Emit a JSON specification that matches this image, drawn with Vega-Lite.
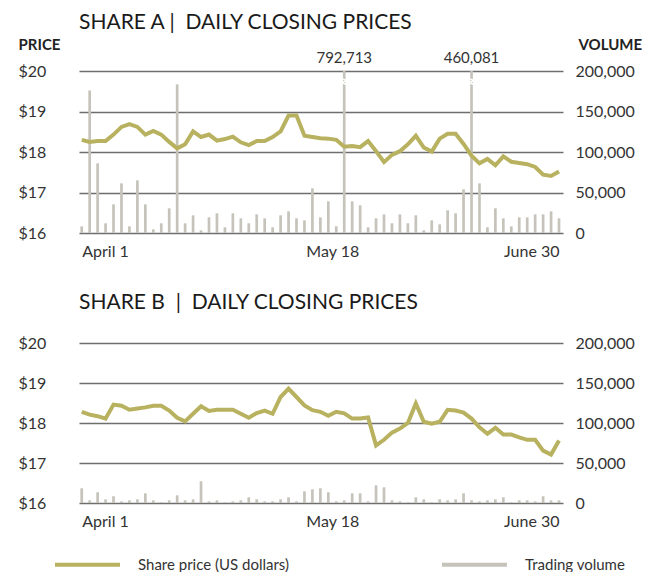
{
  "$schema": "https://vega.github.io/schema/vega-lite/v6.json",
  "padding": {"left": 18, "top": 12, "right": 0, "bottom": 0},
  "background": "white",
  "config": {"font": "Lato", "view": {"stroke": null}},
  "spacing": 33,
  "datasets": {
    "a": [
      {"d":1,"p":18.30,"v":8200},{"d":2,"p":18.25,"v":176000},{"d":3,"p":18.27,"v":86000},{"d":4,"p":18.27,"v":12000},
      {"d":5,"p":18.43,"v":35400},{"d":6,"p":18.62,"v":61300},{"d":7,"p":18.69,"v":8200},{"d":8,"p":18.62,"v":65000},
      {"d":9,"p":18.43,"v":35400},{"d":10,"p":18.52,"v":4500},{"d":11,"p":18.43,"v":12000},{"d":12,"p":18.25,"v":30500},
      {"d":13,"p":18.09,"v":183500},{"d":14,"p":18.19,"v":12000},{"d":15,"p":18.51,"v":21800},{"d":16,"p":18.37,"v":3300},
      {"d":17,"p":18.43,"v":19300},{"d":18,"p":18.28,"v":24300},{"d":19,"p":18.32,"v":7000},{"d":20,"p":18.38,"v":24300},
      {"d":21,"p":18.24,"v":18100},{"d":22,"p":18.17,"v":12000},{"d":23,"p":18.27,"v":23000},{"d":24,"p":18.27,"v":18100},
      {"d":25,"p":18.37,"v":7000},{"d":26,"p":18.51,"v":21800},{"d":27,"p":18.90,"v":26700},{"d":28,"p":18.90,"v":18100},
      {"d":29,"p":18.40,"v":15600},{"d":30,"p":18.37,"v":55100},{"d":31,"p":18.34,"v":19300},{"d":32,"p":18.33,"v":39100},
      {"d":33,"p":18.30,"v":8200},{"d":34,"p":18.13,"v":792713},{"d":35,"p":18.15,"v":39100},{"d":36,"p":18.12,"v":34200},
      {"d":37,"p":18.27,"v":7000},{"d":38,"p":18.02,"v":18100},{"d":39,"p":17.75,"v":23000},{"d":40,"p":17.93,"v":12000},
      {"d":41,"p":18.02,"v":23000},{"d":42,"p":18.19,"v":12000},{"d":43,"p":18.40,"v":21800},{"d":44,"p":18.11,"v":3300},
      {"d":45,"p":18.01,"v":15600},{"d":46,"p":18.33,"v":10700},{"d":47,"p":18.45,"v":28000},{"d":48,"p":18.45,"v":24300},
      {"d":49,"p":18.20,"v":53900},{"d":50,"p":17.91,"v":460081},{"d":51,"p":17.72,"v":61300},{"d":52,"p":17.83,"v":7000},
      {"d":53,"p":17.67,"v":30500},{"d":54,"p":17.89,"v":18100},{"d":55,"p":17.76,"v":8200},{"d":56,"p":17.73,"v":19300},
      {"d":57,"p":17.70,"v":19300},{"d":58,"p":17.63,"v":23000},{"d":59,"p":17.44,"v":23000},{"d":60,"p":17.41,"v":26700},
      {"d":61,"p":17.52,"v":18100}
    ],
    "b": [
      {"d":1,"p":18.28,"v":18400},{"d":2,"p":18.21,"v":3300},{"d":3,"p":18.17,"v":13400},{"d":4,"p":18.11,"v":4600},
      {"d":5,"p":18.46,"v":8400},{"d":6,"p":18.43,"v":2100},{"d":7,"p":18.33,"v":3300},{"d":8,"p":18.36,"v":4600},
      {"d":9,"p":18.39,"v":12100},{"d":10,"p":18.43,"v":3300},{"d":11,"p":18.43,"v":800},{"d":12,"p":18.31,"v":3300},
      {"d":13,"p":18.13,"v":9600},{"d":14,"p":18.04,"v":3300},{"d":15,"p":18.23,"v":4600},{"d":16,"p":18.42,"v":27100},
      {"d":17,"p":18.30,"v":2100},{"d":18,"p":18.33,"v":3300},{"d":19,"p":18.33,"v":800},{"d":20,"p":18.33,"v":2100},
      {"d":21,"p":18.23,"v":3300},{"d":22,"p":18.13,"v":7100},{"d":23,"p":18.25,"v":4600},{"d":24,"p":18.31,"v":2100},
      {"d":25,"p":18.23,"v":2100},{"d":26,"p":18.65,"v":4600},{"d":27,"p":18.86,"v":7100},{"d":28,"p":18.65,"v":2100},
      {"d":29,"p":18.44,"v":14600},{"d":30,"p":18.32,"v":17100},{"d":31,"p":18.28,"v":18400},{"d":32,"p":18.18,"v":13400},
      {"d":33,"p":18.28,"v":2100},{"d":34,"p":18.24,"v":3300},{"d":35,"p":18.11,"v":12100},{"d":36,"p":18.11,"v":12100},
      {"d":37,"p":18.14,"v":2100},{"d":38,"p":17.44,"v":22100},{"d":39,"p":17.58,"v":19600},{"d":40,"p":17.76,"v":3300},
      {"d":41,"p":17.86,"v":2100},{"d":42,"p":18.00,"v":800},{"d":43,"p":18.49,"v":7100},{"d":44,"p":18.03,"v":4600},
      {"d":45,"p":17.98,"v":800},{"d":46,"p":18.03,"v":4600},{"d":47,"p":18.33,"v":3300},{"d":48,"p":18.31,"v":4600},
      {"d":49,"p":18.26,"v":12100},{"d":50,"p":18.11,"v":3300},{"d":51,"p":17.89,"v":2100},{"d":52,"p":17.73,"v":3300},
      {"d":53,"p":17.88,"v":4600},{"d":54,"p":17.71,"v":7100},{"d":55,"p":17.71,"v":800},{"d":56,"p":17.64,"v":3300},
      {"d":57,"p":17.58,"v":3300},{"d":58,"p":17.58,"v":2100},{"d":59,"p":17.31,"v":8400},{"d":60,"p":17.21,"v":3300},
      {"d":61,"p":17.56,"v":3300}
    ]
  },
  "vconcat": [
    {
      "width": 484,
      "height": 162,
      "title": {"text": "SHARE A |\u00a0 DAILY CLOSING PRICES", "anchor": "start", "frame": "group", "fontSize": 21, "fontWeight": 400, "color": "#1a1a1a", "offset": 4},
      "data": {"name": "a"},
      "encoding": {
        "x": {"field": "d", "type": "quantitative", "scale": {"domain": [0.66, 61.5], "nice": false, "zero": false, "padding": 0},
          "axis": {"values": [1, 32.5, 61], "labelExpr": "datum.value < 10 ? 'April 1' : datum.value > 50 ? 'June 30' : 'May 18'", "labelFlush": 6, "labelOverlap": false, "grid": false, "domain": false, "ticks": false, "tickSize": 0, "labelPadding": 10, "labelFontSize": 16, "labelColor": "#333333", "title": null}}
      },
      "layer": [
        {
          "mark": {"type": "bar", "color": "#c6c3ba", "size": 2.7, "clip": true},
          "encoding": {
            "y": {"field": "v", "type": "quantitative", "scale": {"domain": [0, 200000], "nice": false},
              "axis": {"orient": "right", "values": [0, 50000, 100000, 150000, 200000], "labelExpr": "format(datum.value, ',')", "grid": false, "domain": false, "ticks": false, "tickSize": 0, "labelPadding": 12, "labelFontSize": 16, "labelColor": "#333333", "title": "VOLUME", "titleAngle": 0, "titleAlign": "left", "titleBaseline": "alphabetic", "titleX": 15, "titleY": -22, "titleFontSize": 15, "titleFontWeight": "bold", "titleColor": "#222222"}}
          }
        },
        {
          "transform": [{"filter": "datum.v > 200000"}],
          "mark": {"type": "point", "shape": "M -1 -1 L 1 -0.3 L -1 0.3 L 1 1", "filled": false, "stroke": "white", "strokeWidth": 1.5, "size": 40, "opacity": 1},
          "encoding": {"y": {"datum": 187000, "type": "quantitative", "scale": {"domain": [0, 200000], "nice": false}, "axis": null}}
        },
        {
          "transform": [{"filter": "datum.v > 200000"}],
          "mark": {"type": "text", "fontSize": 15, "baseline": "alphabetic", "dy": -8, "color": "#333333"},
          "encoding": {"y": {"datum": 200000, "type": "quantitative", "scale": {"domain": [0, 200000], "nice": false}, "axis": null}, "text": {"field": "v", "type": "quantitative", "format": ","}}
        },
        {
          "mark": {"type": "line", "color": "#b8b260", "strokeWidth": 4},
          "encoding": {
            "y": {"field": "p", "type": "quantitative", "scale": {"domain": [16, 20], "nice": false, "zero": false},
              "axis": {"orient": "left", "values": [16, 17, 18, 19, 20], "labelExpr": "'$' + datum.value", "grid": true, "gridColor": "#6e6e6e", "gridWidth": 1.3, "domain": false, "ticks": false, "tickSize": 0, "labelAlign": "left", "labelPadding": 61, "labelFontSize": 16, "labelColor": "#333333", "title": "PRICE", "titleAngle": 0, "titleAlign": "left", "titleBaseline": "alphabetic", "titleX": -61, "titleY": -22, "titleFontSize": 15, "titleFontWeight": "bold", "titleColor": "#222222"}}
          }
        }
      ],
      "resolve": {"scale": {"y": "independent"}, "axis": {"y": "independent"}}
    },
    {
      "width": 484,
      "height": 160,
      "title": {"text": "SHARE B \u00a0|\u00a0 DAILY CLOSING PRICES", "anchor": "start", "frame": "group", "fontSize": 21, "fontWeight": 400, "color": "#1a1a1a", "offset": 22},
      "data": {"name": "b"},
      "encoding": {
        "x": {"field": "d", "type": "quantitative", "scale": {"domain": [0.66, 61.5], "nice": false, "zero": false, "padding": 0},
          "axis": {"values": [1, 32.5, 61], "labelExpr": "datum.value < 10 ? 'April 1' : datum.value > 50 ? 'June 30' : 'May 18'", "labelFlush": 6, "labelOverlap": false, "grid": false, "domain": false, "ticks": false, "tickSize": 0, "labelPadding": 10, "labelFontSize": 16, "labelColor": "#333333", "title": null}}
      },
      "layer": [
        {
          "mark": {"type": "bar", "color": "#c6c3ba", "size": 2.7, "clip": true},
          "encoding": {
            "y": {"field": "v", "type": "quantitative", "scale": {"domain": [0, 200000], "nice": false},
              "axis": {"orient": "right", "values": [0, 50000, 100000, 150000, 200000], "labelExpr": "format(datum.value, ',')", "grid": false, "domain": false, "ticks": false, "tickSize": 0, "labelPadding": 12, "labelFontSize": 16, "labelColor": "#333333", "title": null}}
          }
        },
        {
          "mark": {"type": "line", "strokeWidth": 4},
          "encoding": {
            "y": {"field": "p", "type": "quantitative", "scale": {"domain": [16, 20], "nice": false, "zero": false},
              "axis": {"orient": "left", "values": [16, 17, 18, 19, 20], "labelExpr": "'$' + datum.value", "grid": true, "gridColor": "#6e6e6e", "gridWidth": 1.3, "domain": false, "ticks": false, "tickSize": 0, "labelAlign": "left", "labelPadding": 61, "labelFontSize": 16, "labelColor": "#333333", "title": null}},
            "stroke": {"datum": "Share price (US dollars)", "type": "nominal",
              "scale": {"domain": ["Share price (US dollars)", "Trading volume"], "range": ["#b8b260", "#c6c3ba"]},
              "legend": {"orient": "none", "legendX": -26, "legendY": 459, "direction": "horizontal", "title": null, "symbolType": "stroke", "symbolSize": 4225, "symbolStrokeWidth": 4, "labelFontSize": 15, "labelColor": "#333333", "labelOffset": 16, "columnPadding": 144, "padding": 0}}
          }
        }
      ],
      "resolve": {"scale": {"y": "independent"}, "axis": {"y": "independent"}}
    }
  ]
}
